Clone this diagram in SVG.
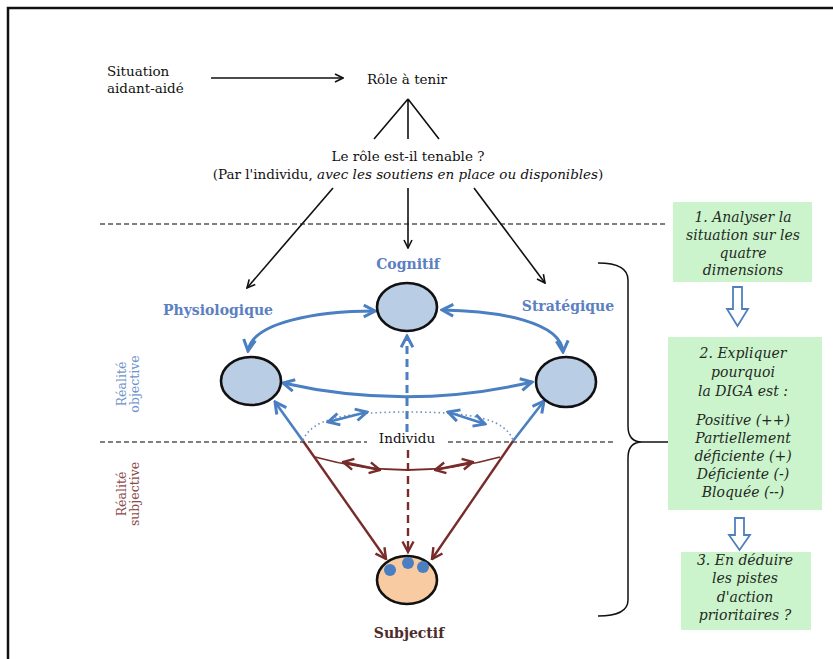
<svg xmlns="http://www.w3.org/2000/svg" width="833" height="659" viewBox="0 0 833 659">
<style>
.t{font-family:"DejaVu Serif","Liberation Serif",serif;font-size:13.5px;fill:#111}
.lab{font-family:"DejaVu Serif","Liberation Serif",serif;font-size:14px;font-weight:bold;fill:#5b80c2;text-anchor:middle}
.bx{font-family:"DejaVu Serif","Liberation Serif",serif;font-size:14px;font-style:italic;fill:#1f2a1f;text-anchor:middle}
.side{font-family:"DejaVu Serif","Liberation Serif",serif;font-size:12.5px;text-anchor:middle}
.blk{fill:none;stroke:#111;stroke-width:1.6}
.blue{fill:none;stroke:#4a7fc1;stroke-width:3}
.bluet{fill:none;stroke:#4a7fc1;stroke-width:2.6}
.brn{fill:none;stroke:#772c2a;stroke-width:2.4}
.brnt{fill:none;stroke:#772c2a;stroke-width:1.8}
.dash{fill:none;stroke:#555;stroke-width:1.3;stroke-dasharray:5 3}
.ell{fill:#b9cde5;stroke:#111;stroke-width:2.6}
.box{fill:#ccf4cc}
.hol{fill:#fff;stroke:#4f7fbd;stroke-width:1.8}
</style>
<defs>
<marker id="ak" viewBox="0 0 10 10" refX="9" refY="5" markerWidth="10" markerHeight="10" markerUnits="userSpaceOnUse" orient="auto-start-reverse">
<path d="M1,1 L9,5 L1,9" fill="none" stroke="#111" stroke-width="1.6"/>
</marker>
<marker id="ab" viewBox="0 0 14 14" refX="12.5" refY="7" markerWidth="15" markerHeight="15" markerUnits="userSpaceOnUse" orient="auto-start-reverse">
<path d="M2,1.5 L12.5,7 L2,12.5" fill="none" stroke="#4a7fc1" stroke-width="2.8" stroke-linejoin="miter"/>
</marker>
<marker id="ar" viewBox="0 0 14 14" refX="12.5" refY="7" markerWidth="14" markerHeight="14" markerUnits="userSpaceOnUse" orient="auto-start-reverse">
<path d="M2,1.5 L12.5,7 L2,12.5" fill="none" stroke="#772c2a" stroke-width="2.4"/>
</marker>
</defs>
<rect width="833" height="659" fill="#fff"/>
<path d="M8,900 L8,8 L900,8" fill="none" stroke="#111" stroke-width="2.5"/>

<g id="separators">
<line class="dash" x1="100" y1="224" x2="665" y2="224"/>
<line class="dash" x1="100" y1="442" x2="367" y2="442"/>
<line class="dash" x1="448" y1="442" x2="614" y2="442"/>
</g>

<g id="connectors">
<path class="blk" d="M211,78 L343,78" marker-end="url(#ak)"/>
<path class="blk" d="M408,99 L374,139 M408,99 L408,139 M408,99 L439,139"/>
<path class="blk" d="M333,188 L247,288" marker-end="url(#ak)"/>
<path class="blk" d="M408,188 L408,248" marker-end="url(#ak)"/>
<path class="blk" d="M474,188 L545,283" marker-end="url(#ak)"/>
<path class="blue" d="M248,351 C252,322 318,311 375,311" marker-start="url(#ab)" marker-end="url(#ab)"/>
<path class="blue" d="M442,310 C500,311 561,322 563,352" marker-start="url(#ab)" marker-end="url(#ab)"/>
<path class="blue" d="M283,383 Q408,411 532,382" marker-start="url(#ab)" marker-end="url(#ab)"/>
<path class="bluet" d="M303,441 L275,402" marker-end="url(#ab)"/>
<path class="bluet" d="M513,441 L544,401" marker-end="url(#ab)"/>
<path class="blue" d="M407,432 L407,336" stroke-dasharray="8 5" marker-end="url(#ab)"/>
<path d="M303,440 C312,420 340,412 408,412 C476,412 505,420 513,440" fill="none" stroke="#6d8fbf" stroke-width="1.6" stroke-dasharray="1.5 3"/>
<path class="bluet" d="M328,422 L367,412" marker-start="url(#ab)" marker-end="url(#ab)"/>
<path class="bluet" d="M448,412 L485,424" marker-start="url(#ab)" marker-end="url(#ab)"/>
<path class="brn" d="M303,441 L386,559" marker-end="url(#ar)"/>
<path class="brn" d="M513,441 L432,559" marker-end="url(#ar)"/>
<path class="brn" d="M408,450 L408,552" stroke-dasharray="8 5" marker-end="url(#ar)"/>
<path class="brnt" d="M315,457 Q408,483 500,457"/>
<path class="brn" d="M343,462 L380,470" marker-start="url(#ar)" marker-end="url(#ar)"/>
<path class="brn" d="M435,470 L473,462" marker-start="url(#ar)" marker-end="url(#ar)"/>
<path d="M598,263 Q628,263 628,280 L628,426 Q628,442 642,442 L668,442 M642,442 Q628,442 628,458 L628,600 Q628,616 598,616" fill="none" stroke="#111" stroke-width="1.5"/>
<path class="hol" d="M733,287 L742,287 L742,309 L748,309 L737.5,326 L727,309 L733,309 Z"/>
<path class="hol" d="M735,518 L744,518 L744,535 L750,535 L739.5,550 L729,535 L735,535 Z"/>
</g>

<g id="situation"><text class="t" x="107" y="76">Situation</text><text class="t" x="107" y="93">aidant-aidé</text></g>
<g id="role"><text class="t" x="407" y="84" text-anchor="middle">Rôle à tenir</text></g>
<g id="question">
<text class="t" x="408" y="161" text-anchor="middle">Le rôle est-il tenable ?</text>
<text class="t" x="408" y="179" text-anchor="middle">(Par l'individu, <tspan font-style="italic">avec les soutiens en place ou disponibles</tspan>)</text>
</g>

<g id="cognitif"><text class="lab" x="408" y="269">Cognitif</text><ellipse class="ell" cx="407" cy="307" rx="30" ry="24"/></g>
<g id="physiologique"><text class="lab" x="218" y="315">Physiologique</text><ellipse class="ell" cx="251" cy="381" rx="30" ry="24"/></g>
<g id="strategique"><text class="lab" x="568" y="311">Stratégique</text><ellipse class="ell" cx="566" cy="382" rx="30" ry="25"/></g>
<g id="individu"><text class="t" x="407" y="443" text-anchor="middle">Individu</text></g>
<g id="subjectif">
<ellipse cx="407" cy="580" rx="30" ry="24" fill="#f9cba2" stroke="#111" stroke-width="2.6"/>
<circle cx="390" cy="570" r="6" fill="#4a7fc1"/>
<circle cx="408" cy="563" r="6" fill="#4a7fc1"/>
<circle cx="423" cy="567" r="6" fill="#4a7fc1"/>
<text class="lab" x="409" y="638" style="fill:#4d2b2b">Subjectif</text>
</g>

<g id="realite-objective">
<text class="side" transform="translate(126,384) rotate(-90)" style="fill:#6f94cc">Réalité</text>
<text class="side" transform="translate(139,384) rotate(-90)" style="fill:#6f94cc">objective</text>
</g>
<g id="realite-subjective">
<text class="side" transform="translate(126,494) rotate(-90)" style="fill:#8d4b49">Réalité</text>
<text class="side" transform="translate(139,494) rotate(-90)" style="fill:#8d4b49">subjective</text>
</g>

<g id="step1">
<rect class="box" x="673" y="202" width="139" height="80"/>
<text class="bx" x="743" y="222">1. Analyser la</text>
<text class="bx" x="743" y="240">situation sur les</text>
<text class="bx" x="743" y="258">quatre</text>
<text class="bx" x="743" y="275">dimensions</text>
</g>
<g id="step2">
<rect class="box" x="668" y="337" width="154" height="173"/>
<text class="bx" x="743" y="358">2. Expliquer</text>
<text class="bx" x="743" y="377">pourquoi</text>
<text class="bx" x="743" y="396">la DIGA est :</text>
<text class="bx" x="743" y="425">Positive (++)</text>
<text class="bx" x="743" y="443">Partiellement</text>
<text class="bx" x="743" y="461">déficiente (+)</text>
<text class="bx" x="743" y="479">Déficiente (-)</text>
<text class="bx" x="743" y="497">Bloquée (--)</text>
</g>
<g id="step3">
<rect class="box" x="681" y="552" width="130" height="78"/>
<text class="bx" x="745" y="565">3. En déduire</text>
<text class="bx" x="745" y="583">les pistes</text>
<text class="bx" x="745" y="602">d'action</text>
<text class="bx" x="745" y="620">prioritaires ?</text>
</g>
</svg>
